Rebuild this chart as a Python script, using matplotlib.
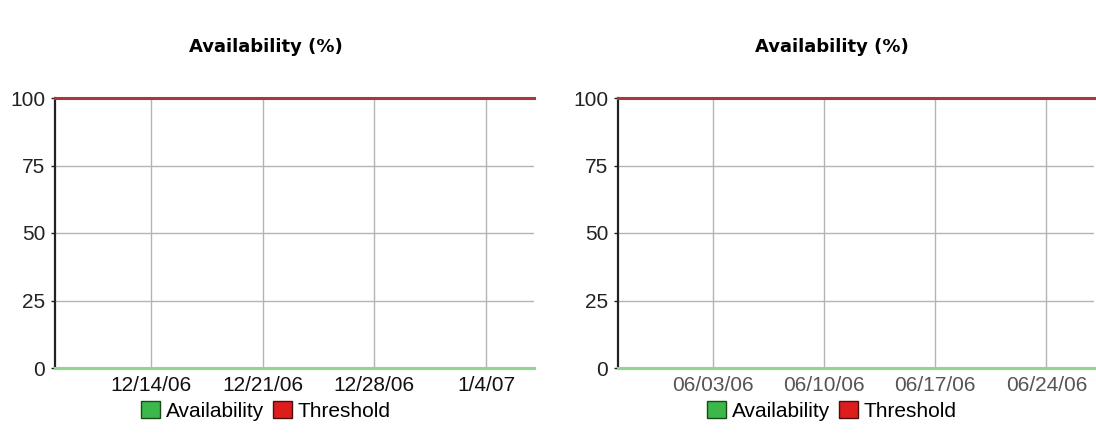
import numpy as np
import matplotlib.pyplot as plt
import matplotlib.dates as mdates
from matplotlib.patches import Patch
from datetime import datetime

# Два периода наблюдения: декабрь-январь и июнь
left_span = [datetime(2006, 12, 8), datetime(2007, 1, 7)]
left_avail = [0, 0]
left_thresh = [100, 100]
left_ticks = [datetime(2006, 12, 14), datetime(2006, 12, 21), datetime(2006, 12, 28), datetime(2007, 1, 4)]
left_labels = ['12/14/06', '12/21/06', '12/28/06', '1/4/07']

right_span = [datetime(2006, 5, 28), datetime(2006, 6, 27)]
right_avail = [0, 0]
right_thresh = [100, 100]
right_ticks = [datetime(2006, 6, 3), datetime(2006, 6, 10), datetime(2006, 6, 17), datetime(2006, 6, 24)]
right_labels = ['06/03/06', '06/10/06', '06/17/06', '06/24/06']

y_ticks = [0, 25, 50, 75, 100]

plt.rcParams['font.family'] = ['Liberation Sans', 'DejaVu Sans']

W, H = 1096, 433
fig = plt.figure(figsize=(W / 100, H / 100), dpi=100)


def px_axes(x0, x1, y0, y1):
    return fig.add_axes([x0 / W, 1 - y1 / H, (x1 - x0) / W, (y1 - y0) / H])


def draw(ax, span, avail, thresh, ticks, labels, tick_color, cx):
    ax.plot(span, thresh, color='#a8383c', lw=2.2, zorder=4, clip_on=False)
    ax.plot(span, avail, color='#8fd68f', lw=2.2, zorder=4, clip_on=False)
    ax.set_xlim(span[0], span[1])
    ax.set_ylim(0, 100)
    ax.set_xticks([mdates.date2num(t) for t in ticks])
    ax.set_xticklabels(labels, color=tick_color)
    ax.set_yticks(y_ticks)
    ax.tick_params(axis='x', length=0, pad=6, labelsize=15)
    ax.tick_params(axis='y', length=3, width=1, pad=4, labelsize=15, colors='#222222')
    ax.grid(True, color='#b4b4b4', lw=1)
    for s in ['top', 'right', 'bottom']:
        ax.spines[s].set_visible(False)
    ax.spines['left'].set_color('#222222')
    ax.spines['left'].set_linewidth(1.6)

    fig.text(cx / W, 1 - 47 / H, 'Availability (%)', ha='center', va='center',
             fontsize=13, fontweight='bold', family='DejaVu Sans')
    handles = [Patch(facecolor='#3cb84a', edgecolor='#1a4a1a', label='Availability'),
               Patch(facecolor='#dd1c1c', edgecolor='#4a1010', label='Threshold')]
    fig.legend(handles=handles, loc='center', bbox_to_anchor=(cx / W, 1 - 411 / H),
               ncol=2, frameon=False, fontsize=15, handlelength=0.9, handleheight=0.9,
               handletextpad=0.3, columnspacing=0.4, borderpad=0)


ax1 = px_axes(55, 534, 98, 368)
draw(ax1, left_span, left_avail, left_thresh, left_ticks, left_labels, '#111111', 266)

ax2 = px_axes(618, 1094, 98, 368)
draw(ax2, right_span, right_avail, right_thresh, right_ticks, right_labels, '#555555', 832)

fig.savefig('out.png', dpi=100)
